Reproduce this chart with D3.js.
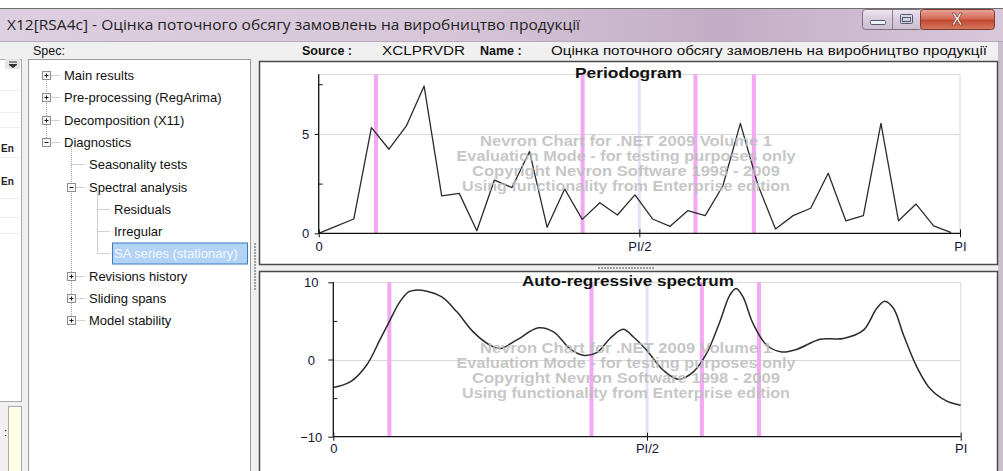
<!DOCTYPE html>
<html><head><meta charset="utf-8">
<script src="https://cdn.jsdelivr.net/npm/d3@7"></script>
<style>
html,body{margin:0;padding:0;background:#fff;overflow:hidden}
svg{display:block}
</style></head><body>
<svg id="c" width="1003" height="471"></svg>
<script>
// ---------------- data ----------------
const windowTitle = "X12[RSA4c] - Оцінка поточного обсягу замовлень на виробництво продукції";
const sourceName = "XCLPRVDR";
const seriesName = "Оцінка поточного обсягу замовлень на виробництво продукції";
const treeLabels = ["Main results","Pre-processing (RegArima)","Decomposition (X11)","Diagnostics",
  "Seasonality tests","Spectral analysis","Residuals","Irregular","SA series (stationary)",
  "Revisions history","Sliding spans","Model stability"];
const treeLevels = [0,0,0,0,1,1,2,2,2,1,1,1];
const treeBoxes  = ["+","+","+","-","","-","","","","+","+","+"];
const treeSelected = 8;

// periodogram values at Fourier frequencies k*2π/73, k = 0..36
const periodogramN = 73;
const periodogramValues = [0,0.36,0.72,5.32,4.23,5.42,7.41,1.88,2.01,0.13,2.68,2.30,4.11,0.30,2.23,0.70,1.54,0.92,1.93,
  0.72,0.35,1.14,0.89,2.38,5.53,2.43,0.22,0.89,1.26,3.02,0.63,0.89,5.53,0.63,1.47,0.37,0.03];

// auto-regressive spectrum (frequency as fraction of π)
const arFreq = [0,0.027,0.053,0.074,0.089,0.106,0.12,0.13,0.149,0.173,0.197,0.223,0.25,0.266,0.292,0.327,0.351,0.377,0.398,0.42,0.441,0.462,0.478,0.4995,0.526,0.55,0.574,0.595,0.616,0.632,0.642,0.653,0.669,0.691,0.715,0.739,0.776,0.813,0.845,0.866,0.879,0.893,0.909,0.93,0.951,0.978,1.0];
const arValues = [-3.63,-2.9,-0.74,2.5,4.87,7.46,8.76,8.98,8.85,8.1,6.17,3.58,1.85,1.42,2.5,4.1,3.58,1.42,0.56,0.9,2.72,3.92,2.95,1.2,-1.39,-2.55,-1.6,0.78,4.87,8.33,9.2,8.1,4.66,1.85,0.98,1.33,2.63,2.72,3.8,6.6,7.55,6.6,3.15,-0.96,-3.76,-5.4,-5.92];

const tdFreqs = [0.0893,0.4115,0.5875,0.6785];   // pink markers
const seasonalFreqs = [0.5,1.0];                // lavender markers
const xTickValues = [0,0.5,1];
const xTickLabels = ["0","PI/2","PI"];
const perMajor = [0,5], perMinor = [2.5,7.5], perGrid = [5,8];
const arMajor = [-10,0,10], arMinor = [-5,5], arGrid = [0,10];
const watermarkLines = ["Nevron Chart for .NET 2009 Volume 1","Evaluation Mode - for testing purposes only",
  "Copyright Nevron Software 1998 - 2009","Using functionality from Enterprise edition"];
const watermarkWidths = [292,339,308,328];

// ---------------- drawing ----------------
const svg = d3.select("#c");
const UI = "'Liberation Sans', Arial, sans-serif";
const defs = svg.append("defs");

const tg = defs.append("linearGradient").attr("id","titleGrad").attr("x1",0).attr("x2",1).attr("y1",0).attr("y2",0);
[[0,"#dccfdf"],[0.45,"#d6c6d8"],[0.72,"#c3adc6"],[0.85,"#cdbad0"],[1,"#d8c8da"]].forEach(s=>tg.append("stop").attr("offset",s[0]).attr("stop-color",s[1]));
const rg = defs.append("linearGradient").attr("id","closeGrad").attr("x1",0).attr("x2",0).attr("y1",0).attr("y2",1);
[[0,"#e8a89c"],[0.45,"#d46a58"],[0.55,"#c44a34"],[1,"#d77a60"]].forEach(s=>rg.append("stop").attr("offset",s[0]).attr("stop-color",s[1]));
const bg = defs.append("linearGradient").attr("id","btnGrad").attr("x1",0).attr("x2",0).attr("y1",0).attr("y2",1);
[[0,"#eee6f0"],[0.5,"#d8cbdb"],[1,"#cdbfd0"]].forEach(s=>bg.append("stop").attr("offset",s[0]).attr("stop-color",s[1]));

// window background
svg.append("rect").attr("x",0).attr("y",0).attr("width",1003).attr("height",471).attr("fill","#f0f0f0");
svg.append("rect").attr("x",0).attr("y",0).attr("width",1003).attr("height",8).attr("fill","#ffffff");
// title bar
svg.append("rect").attr("x",0).attr("y",8).attr("width",1003).attr("height",34).attr("fill","url(#titleGrad)");
svg.append("line").attr("x1",0).attr("x2",1003).attr("y1",8.5).attr("y2",8.5).attr("stroke","#707070");
svg.append("line").attr("x1",0).attr("x2",1003).attr("y1",41.5).attr("y2",41.5).attr("stroke","#b8a8bb");
svg.append("text").attr("x",7).attr("y",30).attr("font-family","'Open Sans','Noto Sans',sans-serif")
  .attr("font-size",15).attr("fill","#1e1e1e").attr("textLength",573).attr("lengthAdjust","spacingAndGlyphs").text(windowTitle);
// right frame strip
svg.append("rect").attr("x",998).attr("y",42).attr("width",5).attr("height",429).attr("fill","#cdbdd0");

// caption buttons
svg.append("rect").attr("x",862.5).attr("y",9.5).attr("width",60).attr("height",20).attr("rx",3)
  .attr("fill","url(#btnGrad)").attr("stroke","#7d6f80");
svg.append("line").attr("x1",892.5).attr("x2",892.5).attr("y1",10).attr("y2",29).attr("stroke","#8c7e8f");
svg.append("rect").attr("x",870.5).attr("y",20.5).attr("width",15).attr("height",4).attr("rx",1).attr("fill","#eef0f8").attr("stroke","#4d5a78");
svg.append("rect").attr("x",900.5).attr("y",14.5).attr("width",12).attr("height",9).attr("rx",1).attr("fill","none").attr("stroke","#4d5a78").attr("stroke-width",1);
svg.append("rect").attr("x",902.5).attr("y",17.5).attr("width",8).attr("height",4).attr("fill","none").attr("stroke","#4d5a78").attr("stroke-width",1);
svg.append("rect").attr("x",920.5).attr("y",9.5).attr("width",74).attr("height",20).attr("rx",3)
  .attr("fill","url(#closeGrad)").attr("stroke","#7a3a30");
svg.append("text").attr("x",957).attr("y",25).attr("text-anchor","middle").attr("font-family",UI).attr("font-weight","bold")
  .attr("font-size",16).attr("fill","#ffffff").attr("stroke","#6a2a20").attr("stroke-width",0.6).text("X");

// header strip
const hdrY = 55;
svg.append("text").attr("x",33).attr("y",hdrY).attr("font-family",UI).attr("font-size",12.5).attr("fill","#111").text("Spec:");
svg.append("text").attr("x",302).attr("y",hdrY).attr("font-family",UI).attr("font-size",12.5).attr("font-weight","bold").attr("fill","#111").text("Source :");
svg.append("text").attr("x",382).attr("y",hdrY).attr("font-family",UI).attr("font-size",12.5).attr("fill","#111")
  .attr("textLength",83).attr("lengthAdjust","spacingAndGlyphs").text(sourceName);
svg.append("text").attr("x",480).attr("y",hdrY).attr("font-family",UI).attr("font-size",12.5).attr("font-weight","bold").attr("fill","#111").text("Name :");
svg.append("text").attr("x",551).attr("y",hdrY).attr("font-family",UI).attr("font-size",12.5).attr("fill","#111")
  .attr("textLength",436).attr("lengthAdjust","spacingAndGlyphs").text(seriesName);

// left strip (partially hidden panel)
svg.append("rect").attr("x",-2).attr("y",59.5).attr("width",23.5).attr("height",342).attr("fill","#ffffff").attr("stroke","#a8a8a8");
svg.append("rect").attr("x",5).attr("y",59).attr("width",15).attr("height",10).attr("fill","#e4e4e4");
svg.append("path").attr("d","M9,62h8M9,64.5h8l-4,3z").attr("stroke","#333").attr("fill","#333").attr("stroke-width",1);
[90,112,127,157,198,217,233].forEach(y=>svg.append("line").attr("x1",0).attr("x2",20).attr("y1",y+0.5).attr("y2",y+0.5).attr("stroke","#eeeeee"));
svg.append("text").attr("x",1).attr("y",152).attr("font-family",UI).attr("font-size",10).attr("font-weight","bold").attr("fill","#222").text("Еn");
svg.append("text").attr("x",1).attr("y",185).attr("font-family",UI).attr("font-size",10).attr("font-weight","bold").attr("fill","#222").text("Еn");
svg.append("rect").attr("x",8.5).attr("y",406.5).attr("width",13).attr("height",70).attr("fill","#ffffe6").attr("stroke","#a8a8a8");
svg.append("text").attr("x",4).attr("y",436).attr("font-family",UI).attr("font-size",11).attr("fill","#222").text(":");

// tree panel
svg.append("rect").attr("x",28.5).attr("y",59.5).attr("width",222).attr("height",420).attr("fill","#ffffff").attr("stroke","#9a9a9a");
const rowY = i => 75 + i*22.3;
const textX = [64,89,114];
const dot = g => g.attr("stroke","#a0a0a0").attr("stroke-dasharray","1,1").attr("stroke-width",1);
svg.append("line").attr("x1",46.5).attr("x2",46.5).attr("y1",rowY(0)).attr("y2",rowY(3)).call(dot);
svg.append("line").attr("x1",71.5).attr("x2",71.5).attr("y1",rowY(3)+5).attr("y2",rowY(11)).call(dot);
svg.append("line").attr("x1",97.5).attr("x2",97.5).attr("y1",rowY(5)+5).attr("y2",rowY(8)).call(dot);
treeLabels.forEach((lab,i)=>{
  const lv = treeLevels[i], y = Math.round(rowY(i))+0.5;
  const bx = lv===0?46.5:(lv===1?71.5:97.5);
  svg.append("line").attr("x1",treeBoxes[i]?bx+5:bx).attr("x2",textX[lv]-4).attr("y1",y).attr("y2",y).call(dot);
  if (treeBoxes[i]) {
    svg.append("rect").attr("x",bx-4).attr("y",y-4).attr("width",8).attr("height",8).attr("fill","#f6f6f6").attr("stroke","#8e8f8f");
    svg.append("line").attr("x1",bx-2).attr("x2",bx+2).attr("y1",y).attr("y2",y).attr("stroke","#1a1a1a");
    if (treeBoxes[i]==="+") svg.append("line").attr("x1",bx).attr("x2",bx).attr("y1",y-2).attr("y2",y+2).attr("stroke","#1a1a1a");
  }
  if (i===treeSelected) {
    svg.append("rect").attr("x",112.5).attr("y",y-10.5).attr("width",135).attr("height",21).attr("fill","#b2d3f5").attr("stroke","#3b7dc0");
  }
  svg.append("text").attr("x",textX[lv]).attr("y",y+4.5).attr("font-family",UI).attr("font-size",13)
    .attr("fill", i===treeSelected ? "#f4f8ff" : "#111").text(lab);
});

// splitter grips
d3.range(243,289,3).forEach(y=>svg.append("rect").attr("x",254).attr("y",y).attr("width",2).attr("height",2).attr("fill","#a0a0a0"));
d3.range(598,654,3).forEach(x=>svg.append("rect").attr("x",x).attr("y",267).attr("width",2).attr("height",2).attr("fill","#a0a0a0"));

// chart panels
svg.append("rect").attr("x",259.5).attr("y",61.5).attr("width",738).attr("height",203).attr("fill","#ffffff").attr("stroke","#4a4a4a").attr("stroke-width",1.5);
svg.append("rect").attr("x",259.5).attr("y",271.5).attr("width",738).attr("height",205).attr("fill","#ffffff").attr("stroke","#4a4a4a").attr("stroke-width",1.5);

function drawChart(cfg){
  const g = svg.append("g");
  const x = d3.scaleLinear().domain([0,1]).range(cfg.xr);
  const y = d3.scaleLinear().domain(cfg.yd).range(cfg.yr);
  g.selectAll(".grid").data(cfg.grid).join("line").attr("x1",x(0)).attr("x2",x(1))
    .attr("y1",d=>Math.round(y(d))+0.5).attr("y2",d=>Math.round(y(d))+0.5).attr("stroke","#d9d9d9");
  g.selectAll(".sea").data(cfg.seasonal).join("line").attr("x1",d=>x(d)).attr("x2",d=>x(d))
    .attr("y1",y(cfg.yd[1])).attr("y2",y(cfg.yd[0])).attr("stroke","#e2e2f6").attr("stroke-width",d=>d===1?1.5:3);
  g.selectAll(".td").data(tdFreqs).join("line").attr("x1",d=>x(d)).attr("x2",d=>x(d))
    .attr("y1",y(cfg.yd[1])).attr("y2",y(cfg.yd[0])).attr("stroke","#f2a8f2").attr("stroke-width",4);
  g.append("path").datum(cfg.data).attr("fill","none").attr("stroke","#2b2b2b").attr("stroke-width",cfg.lw)
    .attr("stroke-linejoin","round")
    .attr("d", d3.line().x(d=>x(d[0])).y(d=>y(d[1])).curve(cfg.curve));
  const wm = g.append("g").attr("font-family",UI).attr("font-weight","bold").attr("font-size",14)
    .attr("fill","#bcbcbc").attr("fill-opacity",0.85).attr("text-anchor","middle");
  watermarkLines.forEach((t,i)=>wm.append("text").attr("x",626).attr("y",cfg.wmY+i*15)
    .attr("textLength",watermarkWidths[i]).attr("lengthAdjust","spacingAndGlyphs").text(t));
  const ya = g.append("g").attr("transform",`translate(${x(0)},0)`)
    .call(d3.axisLeft(y).tickValues(cfg.major).tickSize(cfg.majorTick).tickPadding(cfg.pad).tickFormat(d3.format("d")));
  ya.select(".domain").attr("d",`M0,${y(cfg.yd[1])}V${y(cfg.yd[0])}`).attr("stroke","#111").attr("stroke-width",1.3);
  ya.selectAll("text").attr("font-family",UI).attr("font-size",13).attr("fill","#14143a").attr("text-anchor","middle").attr("dy","0.35em");
  ya.selectAll(".tick line").attr("stroke","#111");
  const ym = g.append("g").attr("transform",`translate(${x(0)},0)`)
    .call(d3.axisRight(y).tickValues(cfg.minor).tickSize(4).tickFormat(""));
  ym.select(".domain").remove();
  ym.selectAll(".tick line").attr("stroke","#111");
  const xa = g.append("g").attr("transform",`translate(0,${y(cfg.yd[0])})`)
    .call(d3.axisBottom(x).tickValues(xTickValues).tickSize(4).tickPadding(cfg.xpad).tickFormat((d,i)=>xTickLabels[i]));
  xa.select(".domain").attr("d",`M${x(0)},0H${x(1)}`).attr("stroke","#111").attr("stroke-width",1.3);
  xa.selectAll(".tick line").attr("y1",-4).attr("stroke","#111");
  xa.selectAll("text").attr("font-family",UI).attr("font-size",13).attr("fill","#14143a");
  g.append("text").attr("x",cfg.titleX).attr("y",cfg.titleY).attr("font-family",UI).attr("font-weight","bold")
    .attr("font-size",15).attr("fill","#111").attr("textLength",cfg.titleW).attr("lengthAdjust","spacingAndGlyphs").text(cfg.title);
}

drawChart({
  xr:[318.7,960], yd:[0,8], yr:[233.3,74.3], grid:perGrid, seasonal:seasonalFreqs,
  data: periodogramValues.map((v,k)=>[2*k/periodogramN, v]), curve:d3.curveLinear, lw:1.3,
  major:perMajor, minor:perMinor, majorTick:4, pad:9, xpad:4, wmY:146,
  title:"Periodogram", titleX:575, titleY:78, titleW:107
});
drawChart({
  xr:[333.3,960.7], yd:[-10,10], yr:[436.7,282.3], grid:arGrid, seasonal:seasonalFreqs,
  data: arFreq.map((f,i)=>[f, arValues[i]]), curve:d3.curveCatmullRom.alpha(0.5), lw:1.5,
  major:arMajor, minor:arMinor, majorTick:5, pad:17, xpad:3, wmY:353,
  title:"Auto-regressive spectrum", titleX:522, titleY:286, titleW:212
});
</script>
</body></html>
